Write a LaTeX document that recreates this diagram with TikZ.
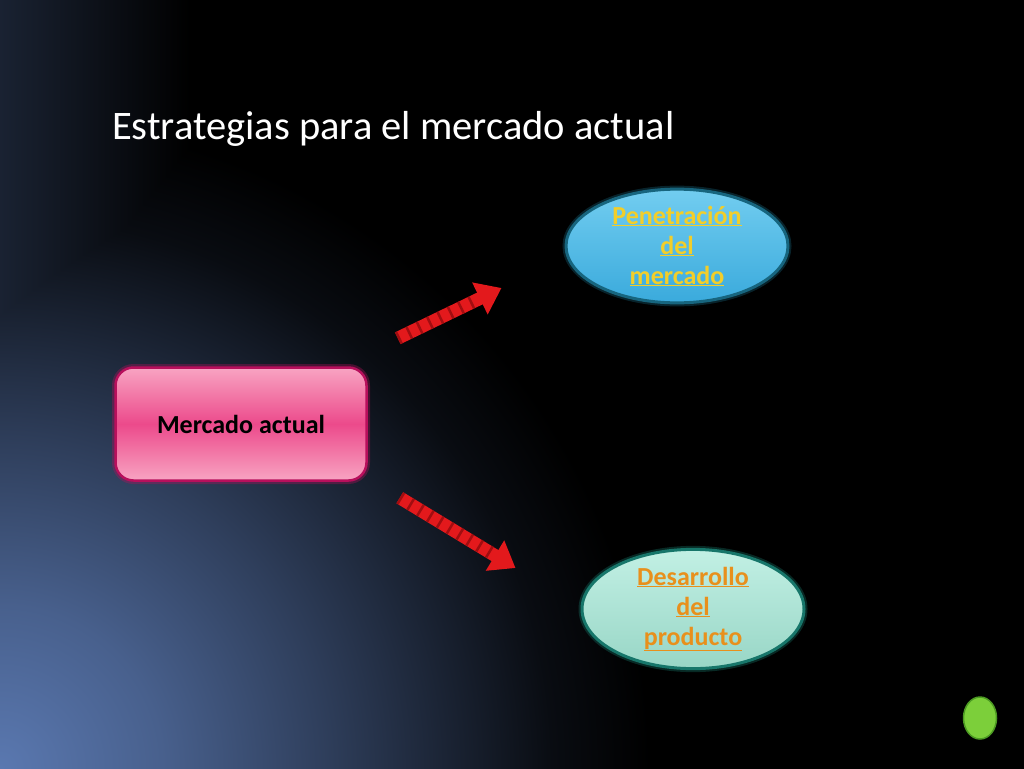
\documentclass[tikz,border=0pt]{standalone}
\usepackage{fontspec}
\setmainfont{Carlito}
\usetikzlibrary{arrows.meta, positioning, shapes.geometric, calc}

\definecolor{slideblue}{HTML}{5A78B0}
\colorlet{glowA}{slideblue!80!black}
\colorlet{glowB}{slideblue!52!black}
\colorlet{glowC}{slideblue!28!black}
\colorlet{glowD}{slideblue!10!black}
\colorlet{edgenavy}{slideblue!30!black}
\definecolor{pinkL}{HTML}{F8A4C2}
\definecolor{pinkM}{HTML}{EC4A8B}
\definecolor{pinkB}{HTML}{B80F5C}
\definecolor{skyL}{HTML}{72CDF0}
\definecolor{skyD}{HTML}{3AAADC}
\definecolor{skyB}{HTML}{17657E}
\definecolor{mintL}{HTML}{C2F0E4}
\definecolor{mintD}{HTML}{98D6C6}
\definecolor{mintB}{HTML}{17766A}
\definecolor{goldtext}{HTML}{F2CE2A}
\definecolor{orangetext}{HTML}{E8901C}
\definecolor{ropered}{HTML}{E3191C}
\definecolor{ropedark}{HTML}{8C0A0C}
\definecolor{btngreen}{HTML}{7CCF3A}
\definecolor{btnedge}{HTML}{4C9A22}

\pgfdeclareradialshading{slideglow}{\pgfpoint{0bp}{0bp}}{%
  color(0bp)=(slideblue); color(6.25bp)=(glowA); color(12.5bp)=(glowB);
  color(17.5bp)=(glowC); color(21.25bp)=(glowD);
  color(25bp)=(black); color(50bp)=(black)}

\begin{document}
\begin{tikzpicture}[
    x=1pt, y=-1pt,
    >=Stealth,
    base/.style={
      rectangle,
      draw=pinkB,
      line width=2.5pt,
      rounded corners=18pt,
      minimum width=251pt,
      minimum height=113pt,
      top color=pinkL, bottom color=pinkL, middle color=pinkM,
      preaction={draw=pinkB, line width=7pt, opacity=0.35},
      font=\fontsize{26}{30}\selectfont\bfseries,
      text=black
    },
    strategy/.style={
      ellipse,
      line width=3pt,
      minimum width=222pt,
      minimum height=99pt,
      inner sep=0pt,
      align=center,
      font=\fontsize{26}{30}\selectfont\bfseries
    },
    twist/.style={
      draw=ropered,
      line width=13pt,
      -{Triangle[length=24pt, width=34pt]}
    },
    stripes/.style={
      draw=ropedark,
      line width=13pt,
      dash pattern=on 2.5pt off 9pt,
      opacity=0.75
    }
]
\useasboundingbox (0,0) rectangle (1024,768);

% fondo de la diapositiva
\fill[black] (-10,-10) rectangle (1034,778);
\begin{scope}
  \clip (-10,-10) rectangle (1034,778);
  \shade[left color=edgenavy, right color=black] (-10,-10) rectangle (190,778);
  \shade[shading=slideglow, blend mode=lighten] (0,768) ellipse (650 and 650);
\end{scope}

% titulo
\node[anchor=base west, text=white, font=\fontsize{40.5}{48}\selectfont, inner sep=0pt] (titulo) at (112,139) {Estrategias para el mercado actual};

% nodos
\node[base] (actual) at (241,424) {Mercado actual};
\node[strategy, draw=skyB, top color=skyL, bottom color=skyD, text=goldtext,
      preaction={draw=skyB, line width=7pt, opacity=0.35}] (pen) at (677,246)
  {\underline{Penetración}\\\underline{del}\\\underline{mercado}};
\node[strategy, draw=mintB, top color=mintL, bottom color=mintD, text=orangetext,
      preaction={draw=mintB, line width=7pt, opacity=0.35}] (des) at (693,609)
  {\underline{Desarrollo}\\\underline{del}\\\underline{producto}};

% boton
\node[ellipse, draw=btnedge, fill=btngreen, line width=1.5pt, minimum width=33pt, minimum height=42pt] (boton) at (980,718) {};

% flechas
\draw[twist] ($(actual.north east)+(30,-28)$) -- ($(pen.west)+(-63,42)$);
\draw[stripes] ($(actual.north east)+(30,-28)$) -- ($(pen.west)+(-88,54)$);

\draw[twist] ($(actual.south east)+(32,16)$) -- ($(des.west)+(-65,-41)$);
\draw[stripes] ($(actual.south east)+(32,16)$) -- ($(des.west)+(-89,-56)$);

\end{tikzpicture}
\end{document}
